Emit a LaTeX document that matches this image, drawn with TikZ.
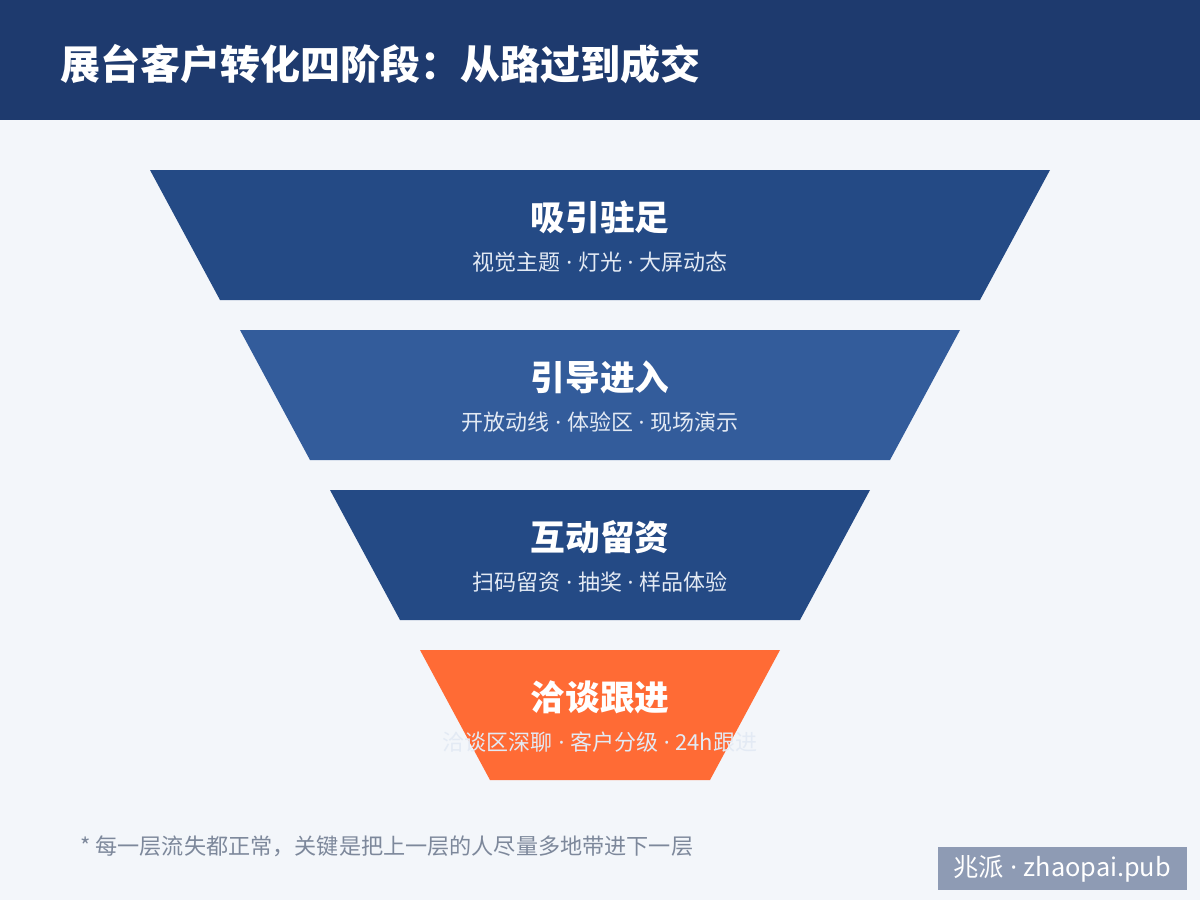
\documentclass[tikz,border=0pt]{standalone}
\usepackage{fontspec}
\setmainfont{Noto Sans CJK SC}
\newfontfamily\dotfont{Noto Sans}
\newcommand\sepdot{{\dotfont\ ·\ }}
\definecolor{headbg}{HTML}{1E3A6E}
\definecolor{pagebg}{HTML}{F3F6FA}
\definecolor{tierA}{HTML}{244A85}
\definecolor{tierB}{HTML}{335C9B}
\definecolor{tierO}{HTML}{FF6B35}
\definecolor{subtxt}{HTML}{E3EAF4}
\definecolor{foot}{HTML}{7D889B}
\definecolor{wmark}{HTML}{8E9BB4}
\tikzset{
  tiertitle/.style={text=white,font=\fontsize{26}{30}\selectfont\bfseries,anchor=center,inner sep=0pt},
  tiersub/.style={text=subtxt,font=\fontsize{16.5}{20}\selectfont,anchor=center,inner sep=0pt},
}
\begin{document}
\begin{tikzpicture}[x=0.75pt,y=-0.75pt]
\useasboundingbox (0,0) rectangle (1200,900);
\fill[pagebg] (0,0) rectangle (1200,900);
\fill[headbg] (0,0) rectangle (1200,120);
\node[anchor=west,text=white,inner sep=0pt,font=\fontsize{30}{36}\selectfont\bfseries] (title) at (60,64) {展台客户转化四阶段：从路过到成交};
% tiers
\fill[tierA] (150,170) -- (1050,170) -- (980,300) -- (220,300) -- cycle;
\fill[tierB] (240,330) -- (960,330) -- (890,460) -- (310,460) -- cycle;
\fill[tierA] (330,490) -- (870,490) -- (800,620) -- (400,620) -- cycle;
\fill[tierO] (420,650) -- (780,650) -- (710,780) -- (490,780) -- cycle;
\node[tiertitle] (t1) at (600,217) {吸引驻足};
\node[tiersub] (s1) at (600,262) {视觉主题\sepdot 灯光\sepdot 大屏动态};
\node[tiertitle] (t2) at (600,377) {引导进入};
\node[tiersub] (s2) at (600,422) {开放动线\sepdot 体验区\sepdot 现场演示};
\node[tiertitle] (t3) at (600,537) {互动留资};
\node[tiersub] (s3) at (600,582) {扫码留资\sepdot 抽奖\sepdot 样品体验};
\node[tiertitle] (t4) at (600,697) {洽谈跟进};
\node[tiersub] (s4) at (600,742) {洽谈区深聊\sepdot 客户分级\sepdot 24h跟进};
\node[anchor=west,text=foot,inner sep=0pt,font=\fontsize{16.6}{20}\selectfont] (note) at (80,846) {* 每一层流失都正常，关键是把上一层的人尽量多地带进下一层};
\fill[wmark] (938,847) rectangle (1187,890);
\node[text=white,inner sep=0pt,font=\fontsize{19}{22}\selectfont] (wm) at (1062,869) {兆派\sepdot zhaopai.pub};
\end{tikzpicture}
\end{document}
